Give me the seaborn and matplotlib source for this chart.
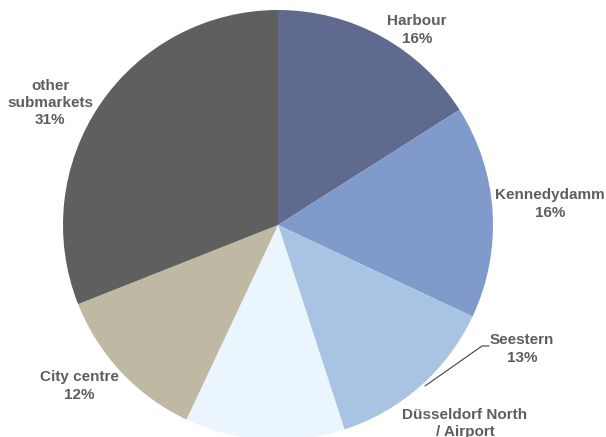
import matplotlib
matplotlib.use("Agg")
import matplotlib.pyplot as plt
import seaborn as sns

# Office stock by submarket
submarkets = ["Harbour", "Kennedydamm", "Seestern", "Düsseldorf North\n/ Airport",
              "City centre", "other\nsubmarkets"]
shares = [16, 16, 13, 12, 12, 31]
colors = ["#5f6a8e", "#7f9acb", "#a9c4e3", "#eaf5fd", "#bfb9a4", "#5f5f5f"]

sns.set_theme(style="white")
plt.rcParams["font.family"] = ["Liberation Sans", "DejaVu Sans"]

W, H, DPI = 606, 437, 100
fig = plt.figure(figsize=(W / DPI, H / DPI), dpi=DPI)

# pie centre and radius in pixels
cx, cy, r = 278, 225, 215
ax = fig.add_axes([(cx - r) / W, (H - cy - r) / H, 2 * r / W, 2 * r / H])
ax.pie(shares, colors=colors, startangle=90, counterclock=False, radius=1,
       wedgeprops=dict(linewidth=0))
ax.set_xlim(-1, 1)
ax.set_ylim(-1, 1)
ax.set_aspect("equal")
ax.axis("off")

# label anchor points (pixel centres of the text blocks)
label_px = [(417, 30), (550, 204), (522, 349), (465, 432), (79, 386), (50, 103)]


def to_data(px, py):
    return (px - cx) / r, (cy - py) / r


for name, val, (px, py) in zip(submarkets, shares, label_px):
    x, y = to_data(px, py)
    ax.text(x, y, f"{name}\n{val}%", ha="center", va="center", fontsize=11,
            color="#5e5e5e", fontweight="bold", linespacing=1.3, clip_on=False)

# leader line for Seestern
x0, y0 = to_data(425, 386)
x1, y1 = to_data(482, 346)
x2, y2 = to_data(489, 346)
ax.plot([x0, x1, x2], [y0, y1, y2], color="#404040", lw=0.8, clip_on=False)

fig.savefig("out.png", dpi=DPI)
